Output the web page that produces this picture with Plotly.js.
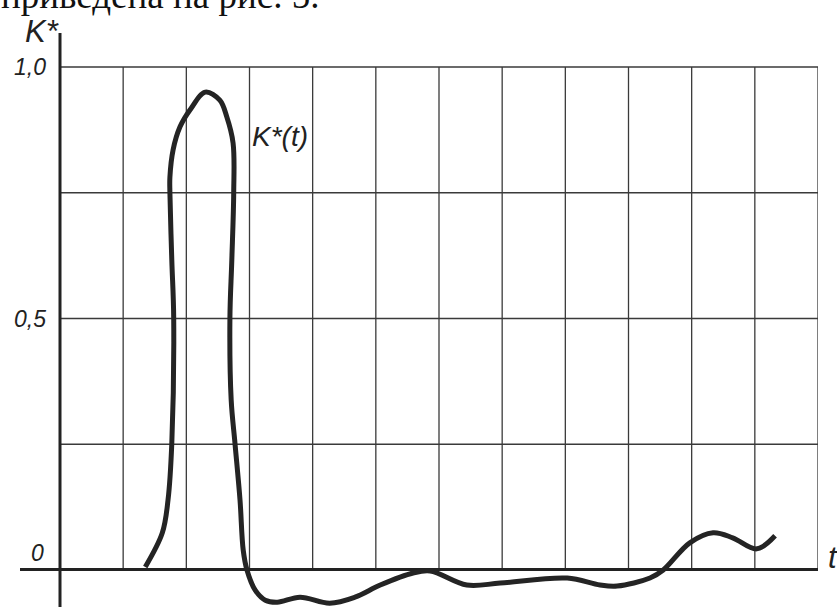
<!DOCTYPE html>
<html>
<head>
<meta charset="utf-8">
<script src="https://cdn.plot.ly/plotly-3.0.1.min.js"></script>
<style>html,body{margin:0;padding:0;background:#fff;}#chart{width:837px;height:607px;}</style>
</head>
<body>
<div id="chart"></div>
<script>
// Curve K*(t) (t in grid cells, K* in units)
const tData = [1.35, 1.62, 1.71, 1.77, 1.80, 1.77, 1.74, 1.74, 1.79, 1.90, 2.06, 2.30, 2.53, 2.64, 2.74, 2.75, 2.72, 2.69, 2.71, 2.77, 2.85, 2.90, 2.96, 3.09, 3.25, 3.44, 3.80, 4.27, 4.67, 5.07, 5.59, 5.86, 6.44, 6.97, 8.03, 8.55, 8.82, 9.34, 9.55, 9.97, 10.34, 10.65, 11.03, 11.32];
const kData = [0.006, 0.074, 0.139, 0.252, 0.501, 0.616, 0.750, 0.781, 0.835, 0.881, 0.915, 0.950, 0.934, 0.901, 0.849, 0.750, 0.616, 0.501, 0.338, 0.252, 0.139, 0.040, 0.000, -0.040, -0.060, -0.064, -0.054, -0.066, -0.054, -0.030, -0.006, -0.002, -0.030, -0.026, -0.016, -0.030, -0.032, -0.016, 0.000, 0.054, 0.074, 0.064, 0.042, 0.068];

// Grid and tick labels
const gridX = [1, 2, 3, 4, 5, 6, 7, 8, 9, 10, 11, 12];
const gridY = [0.25, 0.5, 0.75, 1.0];
const yTickVals = [0.5, 1.0];
const yTickText = ['0,5', '1,0'];

const gridColor = '#3a3a3a';
const shapes = [];
gridX.forEach(v => shapes.push({type: 'line', xref: 'x', yref: 'y', x0: v, x1: v, y0: 0, y1: 1, line: {color: gridColor, width: 1.3}, layer: 'below'}));
gridY.forEach(v => shapes.push({type: 'line', xref: 'x', yref: 'y', x0: 0, x1: 12, y0: v, y1: v, line: {color: gridColor, width: 1.3}, layer: 'below'}));

const italic = {family: 'Liberation Sans, Arial, sans-serif', color: '#222', style: 'italic'};

const trace = {
  x: tData, y: kData, type: 'scatter', mode: 'lines',
  line: {color: '#242424', width: 5, shape: 'spline', smoothing: 1},
  hoverinfo: 'skip'
};

const layout = {
  width: 837, height: 607,
  margin: {l: 20, r: 19, t: 33, b: 0, pad: 0},
  paper_bgcolor: '#fff', plot_bgcolor: '#fff',
  showlegend: false,
  xaxis: {
    range: [-0.6332, 12], showgrid: false, showticklabels: false, ticks: '',
    zeroline: false, showline: false, fixedrange: true
  },
  yaxis: {
    range: [-0.0736, 1.0676], showgrid: false, ticks: '',
    tickvals: yTickVals, ticktext: yTickText,
    tickfont: Object.assign({size: 23}, italic),
    anchor: 'free', position: 0.0501, ticklabelstandoff: 14,
    zeroline: true, zerolinecolor: '#222', zerolinewidth: 3,
    showline: false, fixedrange: true
  },
  shapes: shapes.concat([
    {type: 'line', xref: 'x', yref: 'paper', x0: 0, x1: 0, y0: 0, y1: 1, line: {color: '#222', width: 3}}
  ]),
  annotations: [
    {text: 'приведена на рис. 5.', xref: 'paper', yref: 'paper', x: -0.026, y: 1.0655, xanchor: 'left', yanchor: 'middle', showarrow: false,
     font: {family: 'Liberation Serif, Times New Roman, serif', size: 37, color: '#111'}},
    {text: 'K*', xref: 'paper', yref: 'paper', x: (42 - 20) / 798, y: (607 - 31) / 574, xanchor: 'center', yanchor: 'middle', showarrow: false,
     font: Object.assign({size: 31}, italic)},
    {text: '0', xref: 'x', yref: 'y', x: -0.35, y: 0.034, xanchor: 'center', yanchor: 'middle', showarrow: false,
     font: Object.assign({size: 23}, italic)},
    {text: 'K*(t)', xref: 'x', yref: 'y', x: 3.48, y: 0.861, xanchor: 'center', yanchor: 'middle', showarrow: false,
     font: Object.assign({size: 28}, italic)},
    {text: 't', xref: 'paper', yref: 'y', x: (826 - 20) / 798, y: 0.025, xanchor: 'left', yanchor: 'middle', showarrow: false,
     font: Object.assign({size: 31}, italic)}
  ]
};

Plotly.newPlot('chart', [trace], layout, {staticPlot: true, displayModeBar: false});
</script>
</body>
</html>
